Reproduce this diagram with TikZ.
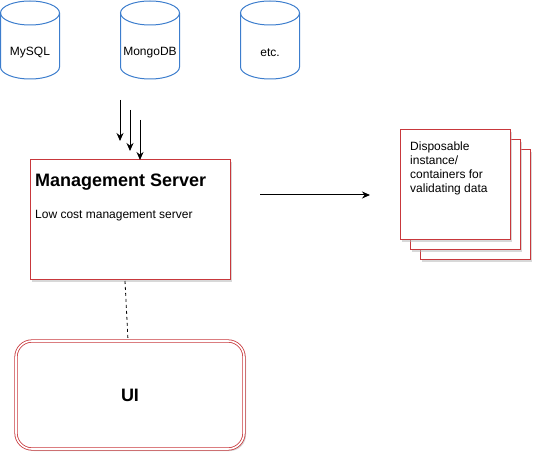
\documentclass[tikz,border=0pt]{standalone}
\usepackage{fontspec}
\setmainfont{Liberation Sans}
\usetikzlibrary{arrows.meta,shadows}

\definecolor{dbblue}{RGB}{60,125,205}
\definecolor{boxred}{RGB}{200,56,60}
\tikzset{
  dbline/.style={draw=dbblue,line width=1pt},
  dbtext/.style={inner sep=0pt,font=\fontsize{12}{14}\selectfont},
  redbox/.style={draw=boxred,line width=1pt,fill=white,
    drop shadow={shadow xshift=2pt,shadow yshift=-2pt,fill=black!30}},
  feed/.style={-{Stealth[length=8pt,width=7pt]},line width=1pt},
}

\begin{document}
\begin{tikzpicture}[x=1pt,y=-1pt]
\useasboundingbox (0,0) rectangle (533,454);
% databases
\foreach \c in {30,150,270} {
  \draw[dbline] (\c,13) ellipse [x radius=29.5pt,y radius=12pt];
  \draw[dbline] (\c-29.5,13) -- (\c-29.5,67) arc[start angle=180,end angle=360,x radius=29.5pt,y radius=12pt] -- (\c+29.5,13);
}
\node[dbtext] at (30,53) (mysql) {MySQL};
\node[dbtext] at (150,53) (mongo) {MongoDB};
\node[dbtext] at (270,53) (etc) {etc.};
% management server
\node[redbox,minimum width=200pt,minimum height=120pt] at (130,220) (server) {};
\node[anchor=west,inner sep=0pt,font=\fontsize{18}{22}\selectfont\bfseries] at (35,182) (title) {Management Server};
\node[anchor=west,inner sep=0pt,font=\fontsize{12}{14}\selectfont] at (35,216) (sub) {Low cost management server};
% incoming data
\coordinate (a1) at (120,100); \coordinate (b1) at (120,141);
\coordinate (a2) at (130,110); \coordinate (b2) at (130,151);
\coordinate (a3) at (140,120); \coordinate (b3) at (140,160);
\draw[feed] (a1) -- (b1);
\draw[feed] (a2) -- (b2);
\draw[feed] (a3) -- (b3);
% ui
\node[draw=boxred,line width=0.8pt,double=white,double distance=1.6pt,rounded corners=16pt,
  fill=white,minimum width=228pt,minimum height=108pt,
  drop shadow={shadow xshift=2pt,shadow yshift=-2pt,fill=black!30},
  font=\fontsize{18}{22}\selectfont\bfseries] at (130,395) (ui) {UI};
\coordinate (s1) at (125,281); \coordinate (s2) at (128,340);
\draw[dashed,line width=0.8pt] (s1) -- (s2);
% disposable instances
\node[redbox,minimum width=110pt,minimum height=110pt] at (475,205) (inst3) {};
\node[redbox,minimum width=110pt,minimum height=110pt] at (465,195) (inst2) {};
\node[redbox,minimum width=110pt,minimum height=110pt] at (455,185) (inst1) {};
\node[anchor=north west,inner sep=0pt,align=left,font=\fontsize{12}{14}\selectfont] at (410,142) (inst) {Disposable\\instance/\\containers for\\validating data};
\coordinate (o1) at (260,195); \coordinate (o2) at (370,195);
\draw[feed] (o1) -- (o2);
\end{tikzpicture}
\end{document}
